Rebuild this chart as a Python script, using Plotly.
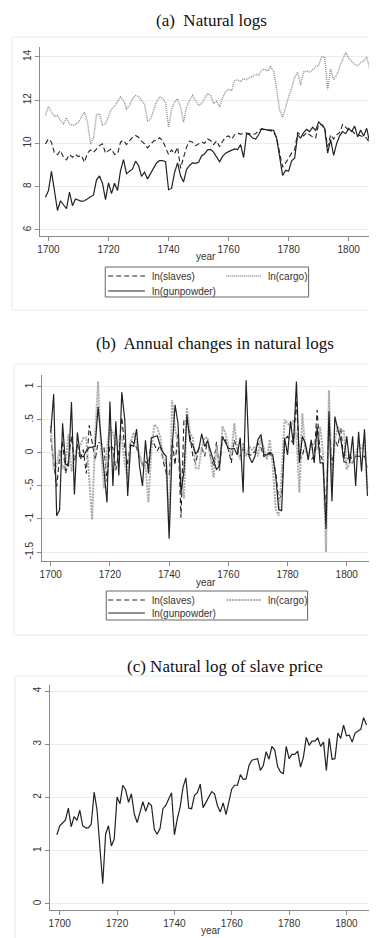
import plotly.graph_objects as go

# ---------------- data ----------------
years = list(range(1699, 1808))
years_diff = list(range(1700, 1808))

ln_slaves = [
    9.98, 10.21, 10.06, 9.55, 9.49, 9.67, 9.36, 9.24, 9.49, 9.36,
    9.49, 9.39, 9.44, 9.13, 9.55, 9.70, 9.59, 9.75, 9.90, 9.98,
    9.55, 9.67, 9.75, 9.49, 9.52, 10.06, 10.14, 9.95, 10.14, 10.29,
    10.37, 10.29, 10.11, 9.98, 9.80, 9.98, 10.11, 10.14, 10.26, 10.14,
    9.83, 9.49, 9.70, 9.52, 9.83, 8.85, 9.36, 9.83, 10.11, 10.06,
    9.90, 9.98, 10.06, 10.01, 10.21, 10.14, 9.95, 10.12, 9.85, 10.10,
    10.30, 10.35, 10.20, 10.40, 10.48, 10.42, 10.48, 10.48, 10.45, 10.42,
    10.45, 10.60, 10.68, 10.62, 10.62, 10.60, 10.55, 10.25, 9.55, 8.90,
    9.10, 9.35, 9.55, 9.70, 10.50, 10.40, 10.35, 10.50, 10.40, 10.30,
    10.25, 10.90, 10.88, 10.75, 9.85, 10.40, 10.20, 10.40, 10.50, 10.88,
    10.75, 10.60, 10.60, 10.45, 10.40, 10.35, 10.30, 10.25, 10.00,
]

ln_cargo = [
    11.30, 11.71, 11.45, 11.25, 11.30, 11.06, 10.91, 11.19, 10.91, 10.83,
    10.88, 10.99, 11.22, 11.45, 10.99, 9.98, 10.25, 11.33, 11.37, 10.83,
    10.91, 11.30, 11.60, 11.71, 11.91, 12.15, 11.99, 11.60, 11.76, 12.07,
    12.22, 12.18, 11.99, 11.80, 11.05, 11.10, 11.53, 11.91, 12.15, 12.07,
    11.90, 10.75, 11.55, 11.91, 12.07, 11.68, 10.99, 11.68, 11.99, 12.22,
    11.99, 11.76, 11.84, 12.07, 12.30, 12.22, 11.85, 11.95, 11.70, 12.10,
    12.40, 12.50, 12.45, 12.90, 12.95, 12.85, 13.00, 12.95, 13.05, 13.10,
    13.20, 13.15, 13.38, 13.45, 13.35, 13.55, 13.35, 12.50, 11.55, 11.20,
    11.70, 12.15, 12.55, 13.05, 13.30, 12.70, 13.30, 13.35, 13.30, 13.40,
    13.55, 13.60, 14.00, 14.00, 12.50, 13.45, 12.95, 13.15, 13.55, 13.85,
    14.20, 13.95, 13.80, 13.65, 13.60, 13.75, 13.80, 14.00, 13.45,
]

ln_gunpowder = [
    7.51, 7.82, 8.71, 7.76, 6.90, 7.35, 7.18, 6.98, 7.75, 7.12,
    7.43, 7.38, 7.32, 7.35, 7.43, 7.52, 7.62, 8.32, 8.50, 8.15,
    7.40, 8.18, 7.68, 8.16, 7.82, 8.74, 9.25, 8.60, 8.72, 8.82,
    9.18, 8.98, 8.48, 8.67, 8.36, 8.59, 8.84, 9.10, 9.21, 9.21,
    9.16, 7.86, 7.92, 8.65, 9.10, 8.50, 8.22, 8.80, 8.98, 9.10,
    9.08, 9.13, 9.42, 9.52, 9.70, 9.72, 9.60, 9.35, 9.15, 9.40,
    9.55, 9.62, 9.68, 9.75, 9.72, 9.95, 9.35, 10.45, 10.40, 10.25,
    10.20, 10.40, 10.68, 10.65, 10.62, 10.63, 10.60, 10.25, 9.40, 8.52,
    8.75, 8.72, 9.20, 9.32, 10.40, 10.25, 10.50, 10.65, 10.55, 10.75,
    10.60, 11.00, 10.85, 10.70, 9.55, 10.18, 9.45, 10.00, 10.35, 10.55,
    10.45, 10.70, 10.55, 10.80, 10.30, 10.62, 10.34, 10.70, 10.05,
]

d_slaves = [
    0.23, -0.15, -0.51, -0.06, 0.18, -0.31, -0.12, 0.25, -0.13, 0.13,
    -0.10, 0.05, -0.31, 0.42, 0.15, -0.11, 0.16, 0.15, 0.08, -0.43,
    0.12, 0.08, -0.26, 0.03, 0.54, 0.08, -0.19, 0.19, 0.15, 0.08,
    -0.08, -0.18, -0.13, -0.18, 0.18, 0.13, 0.03, 0.12, -0.12, -0.31,
    -0.34, 0.21, -0.18, 0.31, -0.98, 0.51, 0.47, 0.28, -0.05, -0.16,
    0.08, 0.08, -0.05, 0.20, -0.07, -0.19, 0.17, -0.27, 0.25, 0.20,
    0.05, -0.15, 0.20, 0.08, -0.06, 0.06, 0.00, -0.03, -0.03, 0.03,
    0.15, 0.08, -0.06, 0.00, -0.02, -0.05, -0.30, -0.70, -0.65, 0.20,
    0.25, 0.20, 0.15, 0.80, -0.10, -0.05, 0.15, -0.10, -0.10, -0.05,
    0.65, -0.02, -0.13, -0.90, 0.55, -0.20, 0.20, 0.10, 0.38, -0.13,
    -0.15, 0.00, -0.15, -0.05, -0.05, -0.05, -0.05, -0.25,
]

d_cargo = [
    0.41, -0.26, -0.20, 0.05, -0.24, -0.15, 0.28, -0.28, -0.08, 0.05,
    0.11, 0.23, 0.23, -0.46, -1.01, 0.27, 1.08, 0.04, -0.54, 0.08,
    0.39, 0.30, 0.11, 0.20, 0.24, -0.16, -0.39, 0.16, 0.31, 0.15,
    -0.04, -0.19, -0.19, -0.75, 0.05, 0.43, 0.38, 0.24, -0.08, -0.17,
    -1.15, 0.80, 0.36, 0.16, -0.39, -0.69, 0.69, 0.31, 0.23, -0.23,
    -0.23, 0.08, 0.23, 0.23, -0.08, -0.37, 0.10, -0.25, 0.40, 0.30,
    0.10, -0.05, 0.45, 0.05, -0.10, 0.15, -0.05, 0.10, 0.05, 0.10,
    -0.05, 0.23, 0.07, -0.10, 0.20, -0.20, -0.85, -0.95, -0.35, 0.50,
    0.45, 0.40, 0.50, 0.25, -0.60, 0.60, 0.05, -0.05, 0.10, 0.15,
    0.05, 0.40, 0.00, -1.50, 0.95, -0.50, 0.20, 0.40, 0.30, 0.35,
    -0.25, -0.15, -0.15, -0.05, 0.15, 0.05, 0.20, -0.55,
]

d_gunpowder = [
    0.31, 0.89, -0.95, -0.86, 0.45, -0.17, -0.20, 0.77, -0.63, 0.31,
    -0.05, -0.06, 0.03, 0.08, 0.09, 0.10, 0.70, 0.18, -0.35, -0.75,
    0.78, -0.50, 0.48, -0.34, 0.92, 0.51, -0.65, 0.12, 0.10, 0.36,
    -0.20, -0.50, 0.19, -0.31, 0.23, 0.25, 0.26, 0.11, 0.00, -0.05,
    -1.30, 0.06, 0.73, 0.45, -0.60, -0.28, 0.58, 0.18, 0.12, -0.02,
    0.05, 0.29, 0.10, 0.18, 0.02, -0.12, -0.25, -0.20, 0.25, 0.15,
    0.07, 0.06, 0.07, -0.03, 0.23, -0.60, 1.10, -0.05, -0.15, -0.05,
    0.20, 0.28, -0.03, -0.03, 0.01, -0.03, -0.35, -0.85, -0.88, 0.23,
    -0.03, 0.48, 0.12, 1.08, -0.15, 0.25, 0.15, -0.10, 0.20, -0.15,
    0.40, -0.15, -0.15, -1.15, 0.63, -0.73, 0.55, 0.35, 0.20, -0.10,
    0.25, -0.15, 0.25, -0.50, 0.32, -0.28, 0.36, -0.65,
]

ln_price = [
    1.30, 1.47, 1.52, 1.58, 1.80, 1.45, 1.64, 1.57, 1.76, 1.47,
    1.43, 1.43, 1.50, 2.10, 1.77, 0.97, 0.38, 1.31, 1.47, 1.09,
    1.22, 2.01, 1.88, 2.23, 2.14, 1.91, 2.07, 1.69, 1.53, 1.72,
    1.92, 1.74, 1.90, 1.85, 1.40, 1.31, 1.42, 1.79, 1.85, 1.97,
    2.09, 1.30, 1.60, 1.82, 2.19, 2.37, 1.80, 1.79, 2.04, 2.09,
    2.25, 1.81, 1.91, 1.99, 2.11, 2.07, 1.85, 1.73, 1.90, 1.68,
    1.91, 2.16, 2.23, 2.23, 2.43, 2.34, 2.35, 2.60, 2.70, 2.72,
    2.73, 2.51, 2.60, 2.86, 2.72, 2.96, 2.89, 2.58, 2.48, 2.45,
    2.96, 2.73, 2.81, 2.81, 2.87, 2.57, 2.76, 3.13, 2.98, 3.06,
    3.06, 3.12, 2.96, 3.04, 2.51, 3.11, 2.72, 2.73, 3.21, 3.11,
    3.36, 3.16, 3.17, 3.04, 3.21, 3.25, 3.28, 3.50, 3.36,
]

x_ticks = [1700, 1720, 1740, 1760, 1780, 1800]
a_yticks = [6, 8, 10, 12, 14]
b_yticks = [-1.5, -1, -0.5, 0, 0.5, 1]
b_yticklabels = ["-1.5", "-1", "-.5", "0", ".5", "1"]
c_yticks = [0, 1, 2, 3, 4]

series_names = ["ln(slaves)", "ln(cargo)", "ln(gunpowder)"]
panel_titles = ["(a)  Natural logs", "(b)  Annual changes in natural logs",
                "(c) Natural log of slave price"]

# ---------------- layout helpers ----------------
W, H = 377, 938
def px(x):
    return x / W
def py(y):
    return 1 - y / H

SANS = "Liberation Sans, Arial, sans-serif"
SERIF = "Liberation Serif, Times New Roman, serif"
INK = "#222222"
AXC = "#8a8a8a"
GRID = "#e5eef0"
BOXC = "#e2ecee"

solid_style = dict(color=INK, width=1.2)
dash_style = dict(color=INK, width=1.1, dash="5px,3px")
dot_a_style = dict(color="#8e8e8e", width=1.4, dash="1px,1px")
dot_b_style = dict(color="#acacac", width=2.0, dash="2px,1px")

fig = go.Figure()

# panel (a)
fig.add_trace(go.Scatter(x=years, y=ln_slaves, mode="lines", name=series_names[0],
                         line=dash_style, xaxis="x", yaxis="y", showlegend=False))
fig.add_trace(go.Scatter(x=years, y=ln_cargo, mode="lines", name=series_names[1],
                         line=dot_a_style, xaxis="x", yaxis="y", showlegend=False))
fig.add_trace(go.Scatter(x=years, y=ln_gunpowder, mode="lines", name=series_names[2],
                         line=solid_style, xaxis="x", yaxis="y", showlegend=False))
# panel (b)
fig.add_trace(go.Scatter(x=years_diff, y=d_slaves, mode="lines", name=series_names[0],
                         line=dash_style, xaxis="x2", yaxis="y2", showlegend=False))
fig.add_trace(go.Scatter(x=years_diff, y=d_cargo, mode="lines", name=series_names[1],
                         line=dot_b_style, xaxis="x2", yaxis="y2", showlegend=False))
fig.add_trace(go.Scatter(x=years_diff, y=d_gunpowder, mode="lines", name=series_names[2],
                         line=solid_style, xaxis="x2", yaxis="y2", showlegend=False))
# panel (c)
fig.add_trace(go.Scatter(x=years, y=ln_price, mode="lines", name="ln(slave price)",
                         line=solid_style, xaxis="x3", yaxis="y3", showlegend=False))

xcommon = dict(showline=True, linecolor=AXC, linewidth=1, ticks="outside", ticklen=4,
               tickcolor=AXC, tickwidth=1, showgrid=False, zeroline=False,
               tickfont=dict(family=SANS, size=10, color="#333333"),
               tickvals=x_ticks, fixedrange=True)
ycommon = dict(showline=True, linecolor=AXC, linewidth=1, ticks="outside", ticklen=4,
               tickcolor=AXC, tickwidth=1, showgrid=True, gridcolor=GRID, gridwidth=1,
               zeroline=False, tickangle=-90,
               tickfont=dict(family=SANS, size=10, color="#333333"), fixedrange=True)

fig.update_layout(
    width=W, height=H, margin=dict(l=0, r=0, t=0, b=0),
    paper_bgcolor="white", plot_bgcolor="white", showlegend=False,
    xaxis=dict(xcommon, domain=[px(29), px(367)], range=[1697.1, 1808.8], anchor="y"),
    yaxis=dict(ycommon, domain=[py(228), py(39)], range=[5.72, 14.46], tickvals=a_yticks,
               anchor="x"),
    xaxis2=dict(xcommon, domain=[px(31.7), px(365)], range=[1697.2, 1808.9], anchor="y2"),
    yaxis2=dict(ycommon, domain=[py(553), py(367)], range=[-1.636, 1.18],
                tickvals=b_yticks, ticktext=b_yticklabels, anchor="x2"),
    xaxis3=dict(xcommon, domain=[px(39.3), px(365)], range=[1696.6, 1809.3], anchor="y3"),
    yaxis3=dict(ycommon, domain=[py(902), py(677)], range=[-0.113, 4.113],
                tickvals=c_yticks, anchor="x3"),
)

shapes = []
annotations = []

# panel frames
for (x0, y0, x1, y1) in [(1, 29, 372, 302), (3, 356, 372, 627), (4, 668, 370, 937)]:
    shapes.append(dict(type="rect", xref="paper", yref="paper",
                       x0=px(x0), x1=px(x1), y0=py(y1), y1=py(y0),
                       line=dict(color=BOXC, width=1), fillcolor="rgba(0,0,0,0)", layer="below"))

# panel titles
for title, (cx, cy) in zip(panel_titles, [(202, 13), (206, 335), (216, 658)]):
    annotations.append(dict(text=title, xref="paper", yref="paper", x=px(cx), y=py(cy),
                            xanchor="center", yanchor="middle", showarrow=False,
                            font=dict(family=SERIF, size=17, color="#111111")))

# axis titles
for (cx, cy) in [(197, 249), (197, 574), (202, 922)]:
    annotations.append(dict(text="year", xref="paper", yref="paper", x=px(cx), y=py(cy),
                            xanchor="center", yanchor="middle", showarrow=False,
                            font=dict(family=SANS, size=10, color="#333333")))

# legends (panels a and b)
legend_specs = [
    dict(box=(95, 259, 300, 289), r1=268, r2=283, cargo_style=dot_a_style),
    dict(box=(96, 583, 299, 612), r1=592, r2=605, cargo_style=dot_b_style),
]
for spec in legend_specs:
    bx0, by0, bx1, by1 = spec["box"]
    shapes.append(dict(type="rect", xref="paper", yref="paper",
                       x0=px(bx0), x1=px(bx1), y0=py(by1), y1=py(by0),
                       line=dict(color="#666666", width=1), fillcolor="white"))
    items = [
        (series_names[0], dash_style, 98, 135, 140, spec["r1"]),
        (series_names[1], spec["cargo_style"], 217, 252, 257, spec["r1"]),
        (series_names[2], solid_style, 98, 135, 140, spec["r2"]),
    ]
    for name, st, sx0, sx1, tx, ry in items:
        shapes.append(dict(type="line", xref="paper", yref="paper",
                           x0=px(sx0), x1=px(sx1), y0=py(ry), y1=py(ry),
                           line=dict(color=st["color"], width=st["width"],
                                     dash=st.get("dash", "solid"))))
        annotations.append(dict(text=name, xref="paper", yref="paper", x=px(tx), y=py(ry),
                                xanchor="left", yanchor="middle", showarrow=False,
                                font=dict(family=SANS, size=10, color="#333333")))

fig.update_layout(shapes=shapes, annotations=annotations)

fig.write_html("out.html")
